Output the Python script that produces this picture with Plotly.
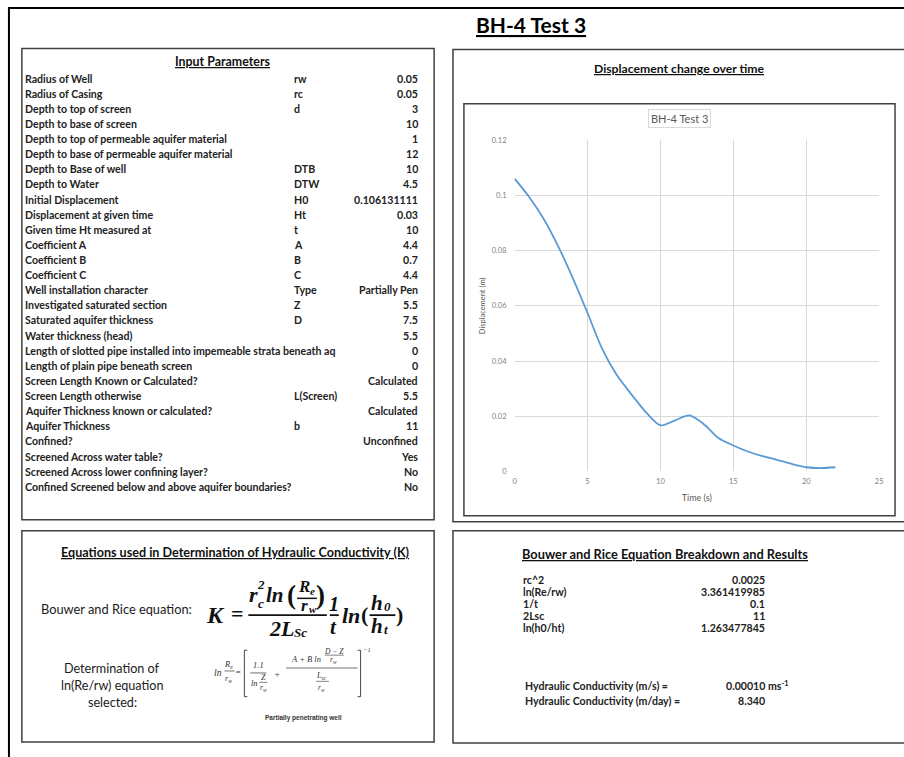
import plotly.graph_objects as go

W, H = 904, 757

# ---------------- data ----------------
time_s = [0, 1, 2, 3, 4, 5, 6, 7, 8, 9, 10, 11, 12, 13, 14, 15, 16, 17, 18, 19, 20, 21, 22]
displacement_m = [0.1061, 0.0995, 0.0915, 0.0815, 0.0700, 0.0575, 0.0445, 0.0350, 0.0280,
                  0.0215, 0.0167, 0.0185, 0.0203, 0.0170, 0.0120, 0.0094, 0.0072, 0.0055,
                  0.0042, 0.0027, 0.0015, 0.0012, 0.0015]
x_ticks = [0, 5, 10, 15, 20, 25]
y_ticks = [0, 0.02, 0.04, 0.06, 0.08, 0.1, 0.12]
y_tick_text = ["0", "0.02", "0.04", "0.06", "0.08", "0.1", "0.12"]

param_labels = ["Radius of Well", "Radius of Casing", "Depth to top of screen", "Depth to base of screen",
                "Depth to top of permeable aquifer material", "Depth to base of permeable aquifer material",
                "Depth to Base of well", "Depth to Water", "Initial Displacement", "Displacement at given time",
                "Given time Ht measured at", "Coefficient A", "Coefficient B", "Coefficient C",
                "Well installation character", "Investigated saturated section", "Saturated aquifer thickness",
                "Water thickness (head)", "Length of slotted pipe installed into impemeable strata beneath aq",
                "Length of plain pipe beneath screen", "Screen Length Known or Calculated?",
                "Screen Length otherwise", "Aquifer Thickness known or calculated?", "Aquifer Thickness",
                "Confined?", "Screened Across water table?", "Screened Across lower confining layer?",
                "Confined Screened below and above aquifer boundaries?"]
param_symbols = ["rw", "rc", "d", "", "", "", "DTB", "DTW", "H0", "Ht", "t", "A", "B", "C", "Type", "Z", "D",
                 "", "", "", "", "L(Screen)", "", "b", "", "", "", ""]
param_values = ["0.05", "0.05", "3", "10", "1", "12", "10", "4.5", "0.106131111", "0.03", "10", "4.4", "0.7",
                "4.4", "Partially Pen", "5.5", "7.5", "5.5", "0", "0", "Calculated", "5.5", "Calculated", "11",
                "Unconfined", "Yes", "No", "No"]

breakdown_labels = ["rc^2", "ln(Re/rw)", "1/t", "2Lsc", "ln(h0/ht)"]
breakdown_values = ["0.0025", "3.361419985", "0.1", "11", "1.263477845"]
result_labels = ["Hydraulic Conductivity (m/s) =", "Hydraulic Conductivity (m/day) ="]
result_values = ["0.00010", "8.340"]
result_units = ["ms<sup>-1</sup>", ""]

# ---------------- helpers ----------------
SANS = "Lato"
SERIF = "Liberation Serif"
annotations = []
shapes = []


def px(x):
    return x / W


def py(y):
    return 1 - y / H


def text(x, y, s, size=10.6, color="#222222", family=SANS, xanchor="left", weight="normal", **kw):
    if xanchor == "left":
        x -= 3
    elif xanchor == "right":
        x += 3
    annotations.append(dict(x=px(x), y=py(y), xref="paper", yref="paper", text=s, showarrow=False,
                            xanchor=xanchor, yanchor="middle",
                            font=dict(size=size, color=color, family=family, weight=weight), **kw))


def line(x0, y0, x1, y1, color="#222222", width=1):
    shapes.append(dict(type="line", xref="paper", yref="paper", x0=px(x0), y0=py(y0), x1=px(x1), y1=py(y1),
                       line=dict(color=color, width=width)))


def rect(x0, y0, x1, y1, color="#404040", width=1.5):
    shapes.append(dict(type="rect", xref="paper", yref="paper", x0=px(x0), y0=py(y0), x1=px(x1), y1=py(y1),
                       line=dict(color=color, width=width), fillcolor="rgba(0,0,0,0)", layer="above"))


# ---------------- frames ----------------
rect(7, 4, 960, 800, color="#000000", width=2)
rect(20, 45, 435, 522)
rect(454, 46, 960, 524)
rect(465, 101, 899, 518)
rect(20, 533, 435, 747)
rect(454, 533, 960, 748)

# main title
text(533, 21, "<b><u>BH-4 Test 3</u></b>", size=21, color="#000000", xanchor="center")

# ---------------- input parameters ----------------
text(222, 58, "<b><u>Input Parameters</u></b>", size=12.4, color="#111111", xanchor="center")
for i, (lab, sym, val) in enumerate(zip(param_labels, param_symbols, param_values)):
    yy = 75.5 + 15.3 * i
    text(24, yy, lab, weight="bold")
    if sym:
        text(295, yy, sym, weight="bold")
    text(418, yy, val, weight="bold", xanchor="right")

# ---------------- chart box ----------------
text(682, 65, "<b><u>Displacement change over time</u></b>", size=12.2, color="#111111", xanchor="center")
text(682, 116, "BH-4 Test 3", size=11, color="#595959", xanchor="center",
     bordercolor="#d9d9d9", borderwidth=1, borderpad=2, bgcolor="white")

# ---------------- equations ----------------
text(235, 555, "<b><u>Equations used in Determination of Hydraulic Conductivity (K)</u></b>", size=12.6,
     color="#111111", xanchor="center")
text(115, 612, "Bouwer and Rice equation:", size=12.8, color="#1a1a1a", xanchor="center")

EQ = "#111111"


def eq(x, y, s, size=20, italic=True):
    s = "<b><i>" + s + "</i></b>" if italic else "<b>" + s + "</b>"
    text(x, y, s, size=size, color=EQ, family=SERIF, xanchor="center")


eq(215, 618, "K", 24)
eq(237, 617, "=", 22, italic=False)
# numerator
eq(253, 598, "r", 22)
eq(261, 607, "c", 13)
eq(261, 587, "2", 13)
eq(275, 598, "ln", 21)
eq(291, 598, "(", 27, italic=False)
eq(304, 590, "R", 17)
eq(313, 594, "e", 11)
line(297, 601.5, 317, 601.5, EQ, 1.5)
eq(305, 609, "r", 17)
eq(313, 612, "w", 11)
eq(321, 598, ")", 27, italic=False)
line(248, 618.5, 327, 618.5, EQ, 1.8)
# denominator
eq(281, 632, "2L", 22)
eq(300, 636, "Sc", 13)
# 1/t
eq(334, 607, "1", 20)
line(330, 618.5, 339, 618.5, EQ, 1.8)
eq(334, 630, "t", 21)
eq(351, 619, "ln", 22)
eq(365, 618, "(", 22, italic=False)
eq(378, 606, "h", 21)
eq(388, 610, "0", 13)
line(370, 618.5, 396, 618.5, EQ, 1.8)
eq(378, 629, "h", 21)
eq(387, 633, "t", 13)
eq(400, 618, ")", 22, italic=False)

# second equation
text(111, 673, "Determination of", size=12.6, color="#1a1a1a", xanchor="center")
text(111, 690, "ln(Re/rw) equation", size=12.6, color="#1a1a1a", xanchor="center")
text(111, 707, "selected:", size=12.6, color="#1a1a1a", xanchor="center")

SM = "#333333"


def sm(x, y, s, size=8):
    text(x, y, "<i>" + s + "</i>", size=size, color=SM, family=SERIF, xanchor="center")


sm(217, 677, "ln", 9.5)
sm(228, 668, "R<sub>e</sub>", 8.5)
line(224, 675, 234, 675, SM, 0.7)
sm(228, 683, "r<sub>w</sub>", 8)
sm(238, 676, "=", 9)
# left bracket
line(244, 654, 244, 701, SM, 0.9)
line(244, 654, 247, 654, SM, 0.9)
line(244, 701, 247, 701, SM, 0.9)
sm(258, 669, "1.1", 8.5)
line(250, 677, 266, 677, SM, 0.7)
sm(254, 687, "ln", 8.5)
sm(263, 682, "Z", 8)
line(259, 686.5, 267, 686.5, SM, 0.6)
sm(263, 692, "r<sub>w</sub>", 7.5)
sm(277, 678, "+", 9)
sm(306, 663, "A + B ln", 8.5)
sm(334, 655, "D − Z", 7.5)
line(325, 659, 344, 659, SM, 0.6)
sm(334, 664, "r<sub>w</sub>", 7.5)
line(286, 672, 358, 672, SM, 0.7)
sm(322, 680, "L<sub>sc</sub>", 8)
line(316, 685.5, 329, 685.5, SM, 0.6)
sm(322, 692, "r<sub>w</sub>", 7.5)
# right bracket
line(361, 654, 361, 701, SM, 0.9)
line(358, 654, 361, 654, SM, 0.9)
line(358, 701, 361, 701, SM, 0.9)
sm(367, 653, "−1", 6.5)
text(304, 723, "<b>Partially penetrating well</b>", size=6.5, color="#333333", family="Liberation Sans",
     xanchor="center")

# ---------------- breakdown ----------------
text(667, 557, "<b><u>Bouwer and Rice Equation Breakdown and Results</u></b>", size=12.8, color="#111111",
     xanchor="center")
for i, (lab, val) in enumerate(zip(breakdown_labels, breakdown_values)):
    yy = 582.5 + 12.2 * i
    text(525, yy, lab, weight="bold")
    text(767, yy, val, weight="bold", xanchor="right")
for i, (lab, val, unit) in enumerate(zip(result_labels, result_values, result_units)):
    yy = 690 + 15.5 * i
    text(527, yy, lab, weight="bold")
    text(767, yy, val, weight="bold", xanchor="right")
    if unit:
        text(772, yy, unit, weight="bold")

# ---------------- figure ----------------
fig = go.Figure()
fig.add_trace(go.Scatter(x=time_s, y=displacement_m, mode="lines",
                         line=dict(color="#5b9bd5", width=1.8, shape="spline", smoothing=0.8),
                         showlegend=False, hoverinfo="x+y"))

fig.update_layout(
    width=W, height=H, margin=dict(l=0, r=0, t=0, b=0),
    paper_bgcolor="white", plot_bgcolor="white",
    xaxis=dict(domain=[px(516), px(883)], range=[0, 25], tickvals=x_ticks, showgrid=True,
               gridcolor="#d9d9d9", gridwidth=1, zeroline=False, showline=False,
               tickfont=dict(size=7.5, color="#7f7f7f", family=SANS), ticks="",
               ticklabelstandoff=4,
               title=dict(text="Time (s)", font=dict(size=9, color="#595959", family=SANS), standoff=9)),
    yaxis=dict(domain=[py(473), py(138)], range=[0, 0.12], tickvals=y_ticks, ticktext=y_tick_text,
               showgrid=True, gridcolor="#d9d9d9", gridwidth=1, zeroline=False, showline=False,
               tickfont=dict(size=7.5, color="#7f7f7f", family=SANS), ticks="", ticklabelstandoff=7,
               title=dict(text="Displacement (m)", font=dict(size=7.5, color="#595959", family=SANS),
                          standoff=5)),
    annotations=annotations,
    shapes=shapes,
)

fig.write_html("out.html", config={"displayModeBar": False},
               post_script="document.body.style.margin='0';")
